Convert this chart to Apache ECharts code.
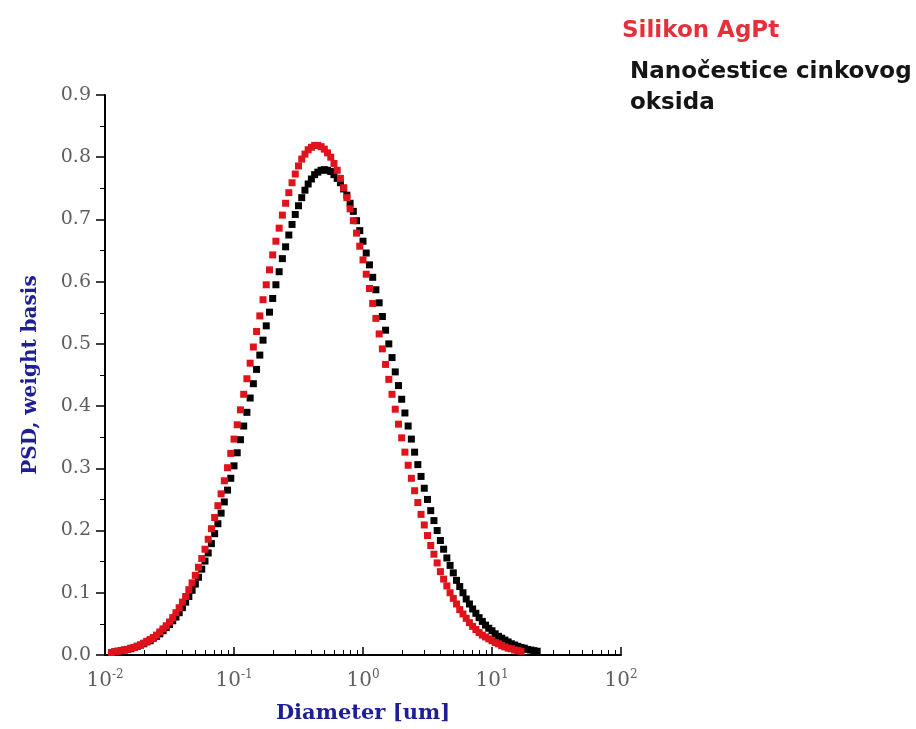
<!DOCTYPE html>
<html>
<head>
<meta charset="utf-8">
<script src="https://cdn.jsdelivr.net/npm/echarts@6/dist/echarts.min.js"></script>
<style>
    html, body { margin: 0; padding: 0; background: #fff; }
    #psd-chart { width: 916px; height: 729px; }
</style>
</head>
<body>
<div id="psd-chart"></div>
<script>
// particle size distribution, weight basis
var diameters = [
    0.01122, 0.01189, 0.01259, 0.01334, 0.01413, 0.01496, 0.01585, 0.01679, 0.01778, 0.01884,
    0.01995, 0.02113, 0.02239, 0.02371, 0.02512, 0.02661, 0.02818, 0.02985, 0.03162, 0.03350,
    0.03548, 0.03758, 0.03981, 0.04217, 0.04467, 0.04732, 0.05012, 0.05309, 0.05623, 0.05957,
    0.06310, 0.06683, 0.07079, 0.07499, 0.07943, 0.08414, 0.08913, 0.09441,
    0.1000, 0.1059, 0.1122, 0.1189, 0.1259, 0.1334, 0.1413, 0.1496, 0.1585, 0.1679,
    0.1778, 0.1884, 0.1995, 0.2113, 0.2239, 0.2371, 0.2512, 0.2661, 0.2818, 0.2985,
    0.3162, 0.3350, 0.3548, 0.3758, 0.3981, 0.4217, 0.4467, 0.4732, 0.5012, 0.5309,
    0.5623, 0.5957, 0.6310, 0.6683, 0.7079, 0.7499, 0.7943, 0.8414, 0.8913, 0.9441,
    1.000, 1.059, 1.122, 1.189, 1.259, 1.334, 1.413, 1.496, 1.585, 1.679,
    1.778, 1.884, 1.995, 2.113, 2.239, 2.371, 2.512, 2.661, 2.818, 2.985,
    3.162, 3.350, 3.548, 3.758, 3.981, 4.217, 4.467, 4.732, 5.012, 5.309,
    5.623, 5.957, 6.310, 6.683, 7.079, 7.499, 7.943, 8.414, 8.913, 9.441,
    10.00, 10.59, 11.22, 11.89, 12.59, 13.34, 14.13, 14.96, 15.85, 16.79,
    17.78, 18.84, 19.95, 21.13, 22.39
];

var silikonAgPt = [
    0.004, 0.005, 0.006, 0.007, 0.008, 0.009, 0.011, 0.012, 0.014, 0.016,
    0.019, 0.022, 0.025, 0.028, 0.032, 0.037, 0.042, 0.047, 0.053, 0.060,
    0.068, 0.076, 0.085, 0.094, 0.105, 0.116, 0.128, 0.141, 0.155, 0.170,
    0.186, 0.203, 0.221, 0.240, 0.259, 0.280, 0.301, 0.324, 0.347, 0.370,
    0.394, 0.419, 0.444, 0.469, 0.495, 0.520, 0.545, 0.571, 0.595, 0.619,
    0.643, 0.665, 0.686, 0.707, 0.726, 0.743, 0.759, 0.773, 0.786, 0.797,
    0.805, 0.812, 0.816, 0.819, 0.819, 0.817, 0.813, 0.807, 0.800, 0.790,
    0.779, 0.766, 0.751, 0.735, 0.717, 0.698, 0.678, 0.657, 0.635, 0.612,
    0.589, 0.565, 0.541, 0.516, 0.492, 0.467, 0.443, 0.419, 0.395, 0.371,
    0.349, 0.326, 0.305, 0.284, 0.264, 0.245, 0.226, 0.209, 0.192, 0.176,
    0.162, 0.148, 0.134, 0.122, 0.111, 0.100, 0.091, 0.082, 0.073, 0.066,
    0.059, 0.052, 0.046, 0.041, 0.036, 0.032, 0.029, 0.026, 0.023, 0.020,
    0.018, 0.015, 0.013, 0.011, 0.010, 0.008, 0.007, 0.006
];

var nanoZnO = [
    0.004, 0.005, 0.006, 0.007, 0.008, 0.009, 0.010, 0.012, 0.014, 0.016,
    0.018, 0.021, 0.023, 0.027, 0.030, 0.034, 0.039, 0.044, 0.049, 0.055,
    0.061, 0.068, 0.076, 0.085, 0.094, 0.104, 0.114, 0.125, 0.138, 0.151,
    0.164, 0.179, 0.195, 0.211, 0.228, 0.246, 0.265, 0.284, 0.304, 0.325,
    0.346, 0.368, 0.390, 0.413, 0.436, 0.459, 0.482, 0.506, 0.529, 0.551,
    0.573, 0.595, 0.616, 0.637, 0.656, 0.675, 0.692, 0.708, 0.722, 0.735,
    0.747, 0.757, 0.765, 0.772, 0.776, 0.779, 0.780, 0.779, 0.777, 0.772,
    0.766, 0.759, 0.749, 0.739, 0.726, 0.713, 0.698, 0.682, 0.665, 0.646,
    0.627, 0.607, 0.587, 0.566, 0.544, 0.522, 0.500, 0.478, 0.455, 0.433,
    0.411, 0.389, 0.368, 0.347, 0.326, 0.306, 0.287, 0.268, 0.250, 0.232,
    0.216, 0.200, 0.184, 0.170, 0.156, 0.144, 0.132, 0.120, 0.110, 0.100,
    0.090, 0.082, 0.074, 0.067, 0.060, 0.054, 0.048, 0.043, 0.039, 0.034,
    0.030, 0.027, 0.024, 0.021, 0.018, 0.016, 0.014, 0.012, 0.011, 0.009,
    0.008, 0.007, 0.006
];

var decades = [0.01, 0.1, 1, 10];
var minorSteps = [2, 3, 4, 5, 6, 7, 8, 9];

var nameRed = 'Silikon AgPt';
var nameBlack = 'Nanočestice cinkovog oksida';

function pairs(values) {
    return values.map(function(v, i) { return [diameters[i], v]; });
}

var minorTickValues = [];
decades.forEach(function(d) {
    minorSteps.forEach(function(m) { minorTickValues.push(d * m); });
});

var serif = 'DejaVu Serif';
var labelGray = '#5e5e5e';
var nameBlue = '#1e1e96';

var chart = echarts.init(document.getElementById('psd-chart'));
var option = {
    backgroundColor: '#fff',
    animation: false,
    grid: {
        left: 105,
        right: 295,
        top: 95,
        bottom: 72
    },
    legend: {
        orient: 'vertical',
        left: 617,
        top: 16,
        padding: 0,
        icon: 'none',
        itemWidth: 0,
        itemGap: 10,
        selectedMode: false,
        textStyle: {
            fontFamily: 'DejaVu Sans',
            fontWeight: 'bold',
            fontSize: 23,
            lineHeight: 31
        },
        formatter: function(name) {
            return name.replace(' oksida', '\noksida');
        },
        data: [
            { name: nameRed, textStyle: { color: '#e3303a' } },
            { name: nameBlack, textStyle: { color: '#151515', padding: [0, 0, 0, 8] } }
        ]
    },
    xAxis: [
        {
            type: 'log',
            logBase: 10,
            min: 0.01,
            max: 100,
            name: 'Diameter [um]',
            nameLocation: 'middle',
            nameGap: 48,
            nameTextStyle: {
                color: nameBlue,
                fontFamily: serif,
                fontWeight: 'bold',
                fontSize: 21
            },
            axisLine: { lineStyle: { color: '#000', width: 2 } },
            axisTick: { inside: true, length: 8, lineStyle: { color: '#000', width: 1.5 } },
            splitLine: { show: false },
            minorTick: { show: false },
            axisLabel: {
                margin: 14,
                formatter: function(v) {
                    var e = Math.round(Math.log10(v));
                    return '{b|10}{s|' + e + '}';
                },
                rich: {
                    b: { fontFamily: serif, fontSize: 20, color: labelGray, lineHeight: 24 },
                    s: { fontFamily: serif, fontSize: 12, color: labelGray, verticalAlign: 'top', lineHeight: 24 }
                }
            }
        },
        {
            type: 'log',
            logBase: 10,
            min: 0.01,
            max: 100,
            position: 'bottom',
            axisLine: { show: false },
            axisLabel: { show: false },
            splitLine: { show: false },
            axisTick: {
                show: true,
                inside: true,
                length: 5,
                customValues: minorTickValues,
                lineStyle: { color: '#000', width: 1 }
            }
        }
    ],
    yAxis: {
        type: 'value',
        min: 0,
        max: 0.9,
        interval: 0.1,
        name: 'PSD, weight basis',
        nameLocation: 'middle',
        nameGap: 64,
        nameTextStyle: {
            color: nameBlue,
            fontFamily: serif,
            fontWeight: 'bold',
            fontSize: 20
        },
        axisLine: { show: true, lineStyle: { color: '#000', width: 2 } },
        axisTick: { show: true, length: 9, lineStyle: { color: '#000', width: 1.5 } },
        minorTick: { show: true, splitNumber: 2, length: 5, lineStyle: { color: '#000', width: 1 } },
        splitLine: { show: false },
        axisLabel: {
            margin: 14,
            fontFamily: serif,
            fontSize: 19,
            color: labelGray,
            formatter: function(v) { return v.toFixed(1); }
        }
    },
    series: [
        {
            name: nameBlack,
            type: 'scatter',
            symbol: 'rect',
            symbolSize: 7,
            itemStyle: { color: '#000', opacity: 1 },
            data: pairs(nanoZnO)
        },
        {
            name: nameRed,
            type: 'scatter',
            symbol: 'rect',
            symbolSize: 7,
            itemStyle: { color: '#e0121c', opacity: 1 },
            data: pairs(silikonAgPt)
        }
    ]
};
chart.setOption(option);
</script>
</body>
</html>
